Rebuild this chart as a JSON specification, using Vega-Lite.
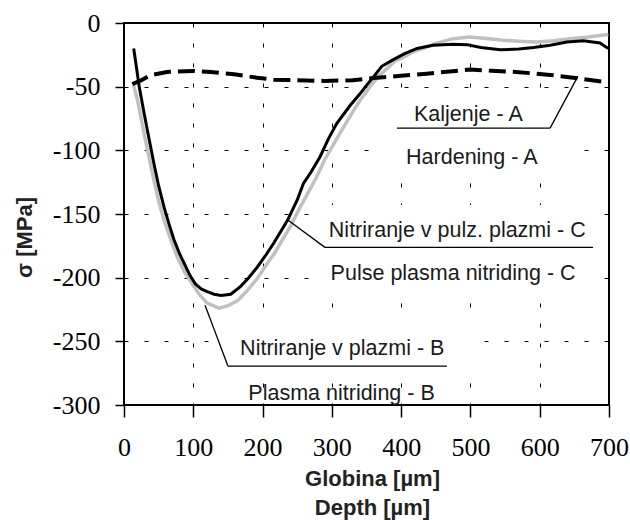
{
  "$schema": "https://vega.github.io/schema/vega-lite/v6.json",
  "width": 485,
  "height": 382,
  "autosize": {"type": "none"},
  "padding": {"left": 124, "top": 23, "right": 21, "bottom": 115},
  "background": "white",
  "config": {
    "view": {"stroke": "#000000", "strokeWidth": 2},
    "axis": {
      "domain": false,
      "grid": true,
      "gridColor": "#000000",
      "gridWidth": 1,
      "gridDash": [4, 16],
      "gridOpacity": 1,
      "tickColor": "#000000",
      "tickWidth": 1.5,
      "labelColor": "#000000",
      "labelFont": "Liberation Serif",
      "labelFontSize": 26,
      "labelFlush": false,
      "labelOverlap": false,
      "titleFont": "Liberation Sans",
      "titleFontWeight": "bold",
      "titleFontSize": 22,
      "titleColor": "#222222"
    }
  },
  "datasets": {
    "curves": [
      {"series": "C", "depth": 14, "sigma": -20},
      {"series": "C", "depth": 18, "sigma": -35},
      {"series": "C", "depth": 22, "sigma": -50},
      {"series": "C", "depth": 28, "sigma": -68},
      {"series": "C", "depth": 34, "sigma": -85},
      {"series": "C", "depth": 43, "sigma": -110},
      {"series": "C", "depth": 50, "sigma": -128},
      {"series": "C", "depth": 58, "sigma": -145},
      {"series": "C", "depth": 65, "sigma": -158},
      {"series": "C", "depth": 72, "sigma": -170},
      {"series": "C", "depth": 80, "sigma": -181},
      {"series": "C", "depth": 87, "sigma": -189},
      {"series": "C", "depth": 95, "sigma": -198},
      {"series": "C", "depth": 103, "sigma": -205},
      {"series": "C", "depth": 112, "sigma": -209},
      {"series": "C", "depth": 120, "sigma": -211},
      {"series": "C", "depth": 130, "sigma": -213},
      {"series": "C", "depth": 140, "sigma": -214},
      {"series": "C", "depth": 154, "sigma": -213},
      {"series": "C", "depth": 168, "sigma": -207},
      {"series": "C", "depth": 180, "sigma": -200},
      {"series": "C", "depth": 192, "sigma": -192},
      {"series": "C", "depth": 205, "sigma": -182},
      {"series": "C", "depth": 216, "sigma": -173},
      {"series": "C", "depth": 226, "sigma": -164},
      {"series": "C", "depth": 236, "sigma": -155},
      {"series": "C", "depth": 250, "sigma": -139},
      {"series": "C", "depth": 259, "sigma": -126},
      {"series": "C", "depth": 270, "sigma": -117},
      {"series": "C", "depth": 283, "sigma": -105},
      {"series": "C", "depth": 295, "sigma": -91},
      {"series": "C", "depth": 307, "sigma": -79},
      {"series": "C", "depth": 326, "sigma": -65},
      {"series": "C", "depth": 340, "sigma": -56},
      {"series": "C", "depth": 350, "sigma": -49},
      {"series": "C", "depth": 362, "sigma": -41},
      {"series": "C", "depth": 372, "sigma": -34},
      {"series": "C", "depth": 388, "sigma": -29},
      {"series": "C", "depth": 405, "sigma": -24},
      {"series": "C", "depth": 423, "sigma": -20},
      {"series": "C", "depth": 446, "sigma": -17.5},
      {"series": "C", "depth": 475, "sigma": -16.7},
      {"series": "C", "depth": 495, "sigma": -17},
      {"series": "C", "depth": 515, "sigma": -19.3},
      {"series": "C", "depth": 543, "sigma": -21},
      {"series": "C", "depth": 570, "sigma": -20.5},
      {"series": "C", "depth": 591, "sigma": -19.3},
      {"series": "C", "depth": 615, "sigma": -17.5},
      {"series": "C", "depth": 639, "sigma": -15},
      {"series": "C", "depth": 663, "sigma": -14},
      {"series": "C", "depth": 687, "sigma": -15.7},
      {"series": "C", "depth": 699, "sigma": -20},
      {"series": "B", "depth": 14, "sigma": -49},
      {"series": "B", "depth": 20, "sigma": -62},
      {"series": "B", "depth": 29, "sigma": -87},
      {"series": "B", "depth": 36, "sigma": -105},
      {"series": "B", "depth": 43, "sigma": -123},
      {"series": "B", "depth": 50, "sigma": -140},
      {"series": "B", "depth": 58, "sigma": -155},
      {"series": "B", "depth": 68, "sigma": -171},
      {"series": "B", "depth": 77, "sigma": -184},
      {"series": "B", "depth": 88, "sigma": -196},
      {"series": "B", "depth": 101, "sigma": -207},
      {"series": "B", "depth": 110, "sigma": -214},
      {"series": "B", "depth": 120, "sigma": -220},
      {"series": "B", "depth": 137, "sigma": -224},
      {"series": "B", "depth": 150, "sigma": -222},
      {"series": "B", "depth": 164, "sigma": -218},
      {"series": "B", "depth": 178, "sigma": -210},
      {"series": "B", "depth": 192, "sigma": -201},
      {"series": "B", "depth": 204, "sigma": -191},
      {"series": "B", "depth": 217, "sigma": -181},
      {"series": "B", "depth": 229, "sigma": -170},
      {"series": "B", "depth": 240, "sigma": -160},
      {"series": "B", "depth": 252, "sigma": -147},
      {"series": "B", "depth": 265, "sigma": -134},
      {"series": "B", "depth": 278, "sigma": -121},
      {"series": "B", "depth": 290, "sigma": -107},
      {"series": "B", "depth": 307, "sigma": -91},
      {"series": "B", "depth": 320, "sigma": -79},
      {"series": "B", "depth": 331, "sigma": -69},
      {"series": "B", "depth": 343, "sigma": -59},
      {"series": "B", "depth": 355, "sigma": -50},
      {"series": "B", "depth": 367, "sigma": -42},
      {"series": "B", "depth": 379, "sigma": -36},
      {"series": "B", "depth": 391, "sigma": -30},
      {"series": "B", "depth": 403, "sigma": -27},
      {"series": "B", "depth": 420, "sigma": -22},
      {"series": "B", "depth": 432, "sigma": -20},
      {"series": "B", "depth": 450, "sigma": -16},
      {"series": "B", "depth": 475, "sigma": -12.3},
      {"series": "B", "depth": 499, "sigma": -11},
      {"series": "B", "depth": 520, "sigma": -12},
      {"series": "B", "depth": 547, "sigma": -13.6},
      {"series": "B", "depth": 575, "sigma": -14.5},
      {"series": "B", "depth": 596, "sigma": -15},
      {"series": "B", "depth": 620, "sigma": -14},
      {"series": "B", "depth": 644, "sigma": -12.3},
      {"series": "B", "depth": 670, "sigma": -11},
      {"series": "B", "depth": 699, "sigma": -9},
      {"series": "A", "depth": 12, "sigma": -48},
      {"series": "A", "depth": 25, "sigma": -45},
      {"series": "A", "depth": 38, "sigma": -41},
      {"series": "A", "depth": 62, "sigma": -38.5},
      {"series": "A", "depth": 100, "sigma": -37.7},
      {"series": "A", "depth": 125, "sigma": -38.5},
      {"series": "A", "depth": 159, "sigma": -40.3},
      {"series": "A", "depth": 192, "sigma": -43},
      {"series": "A", "depth": 216, "sigma": -44.5},
      {"series": "A", "depth": 250, "sigma": -45},
      {"series": "A", "depth": 289, "sigma": -45.5},
      {"series": "A", "depth": 330, "sigma": -45},
      {"series": "A", "depth": 365, "sigma": -43},
      {"series": "A", "depth": 400, "sigma": -41.5},
      {"series": "A", "depth": 437, "sigma": -39.8},
      {"series": "A", "depth": 470, "sigma": -38},
      {"series": "A", "depth": 499, "sigma": -36.6},
      {"series": "A", "depth": 530, "sigma": -37.5},
      {"series": "A", "depth": 566, "sigma": -38.5},
      {"series": "A", "depth": 600, "sigma": -40},
      {"series": "A", "depth": 619, "sigma": -41},
      {"series": "A", "depth": 658, "sigma": -43.7},
      {"series": "A", "depth": 694, "sigma": -46.3},
      {"series": "A", "depth": 700, "sigma": -46.5}
    ],
    "boxes": [
      {"depth": 374, "sigma": -53, "depth2": 654, "sigma2": -116},
      {"depth": 268, "sigma": -143, "depth2": 675, "sigma2": -211},
      {"depth": 124, "sigma": -235, "depth2": 506, "sigma2": -274}
    ],
    "notes": [
      {"depth": 497, "sigma": -77, "text": "Kaljenje - A"},
      {"depth": 502, "sigma": -110.4, "text": "Hardening - A"},
      {"depth": 481, "sigma": -168.1, "text": "Nitriranje v pulz. plazmi - C"},
      {"depth": 475, "sigma": -202.1, "text": "Pulse plasma nitriding - C"},
      {"depth": 315, "sigma": -260.4, "text": "Nitriranje v plazmi - B"},
      {"depth": 314, "sigma": -296.3, "text": "Plasma nitriding - B"}
    ],
    "leaders": [
      {"depth": 394, "sigma": -82.6, "depth2": 615, "sigma2": -82.6},
      {"depth": 615, "sigma": -82.6, "depth2": 655, "sigma2": -41.9},
      {"depth": 290, "sigma": -176.2, "depth2": 677, "sigma2": -176.2},
      {"depth": 290, "sigma": -176.2, "depth2": 235, "sigma2": -154.2},
      {"depth": 150, "sigma": -269.4, "depth2": 466, "sigma2": -269.4},
      {"depth": 150, "sigma": -269.4, "depth2": 117, "sigma2": -221.7}
    ]
  },
  "encoding": {
    "x": {
      "field": "depth",
      "type": "quantitative",
      "scale": {"domain": [0, 700], "nice": false, "zero": false},
      "axis": {
        "title": ["Globina [µm]", "Depth [µm]"],
        "values": [0, 100, 200, 300, 400, 500, 600, 700],
        "labelFont": "Liberation Serif",
        "labelFontSize": 26,
        "tickSize": 12,
        "labelPadding": 17,
        "titleX": 248,
        "titleY": 80,
        "titleAlign": "center",
        "titleBaseline": "alphabetic",
        "titleLineHeight": 29
      }
    },
    "y": {
      "field": "sigma",
      "type": "quantitative",
      "scale": {"domain": [-300, 0], "nice": false, "zero": false},
      "axis": {
        "title": "σ [MPa]",
        "values": [-300, -250, -200, -150, -100, -50, 0],
        "labelExpr": "replace(datum.label, '\u2212', '-')",
        "labelFont": "Liberation Serif",
        "labelFontSize": 26,
        "tickSize": 9,
        "labelPadding": 15,
        "titleAngle": 270,
        "titleX": -93,
        "titleY": 214,
        "titleAlign": "center",
        "titleBaseline": "alphabetic"
      }
    }
  },
  "layer": [
    {
      "data": {"name": "boxes"},
      "mark": {"type": "rect", "fill": "#ffffff", "stroke": null},
      "encoding": {
        "x2": {"field": "depth2"},
        "y2": {"field": "sigma2"}
      }
    },
    {
      "data": {"name": "curves"},
      "transform": [{"filter": "datum.series === 'B'"}],
      "mark": {"type": "line", "color": "#c0c0c0", "strokeWidth": 3.5, "clip": true}
    },
    {
      "data": {"name": "curves"},
      "transform": [{"filter": "datum.series === 'A'"}],
      "mark": {"type": "line", "color": "#000000", "strokeWidth": 4, "strokeDash": [17, 7], "clip": true}
    },
    {
      "data": {"name": "curves"},
      "transform": [{"filter": "datum.series === 'C'"}],
      "mark": {"type": "line", "color": "#000000", "strokeWidth": 3, "clip": true}
    },
    {
      "data": {"name": "leaders"},
      "mark": {"type": "rule", "color": "#000000", "strokeWidth": 1.3},
      "encoding": {
        "x2": {"field": "depth2"},
        "y2": {"field": "sigma2"}
      }
    },
    {
      "data": {"name": "notes"},
      "mark": {"type": "text", "font": "Liberation Sans", "fontSize": 21.5, "color": "#1a1a1a", "align": "center", "baseline": "alphabetic"},
      "encoding": {
        "text": {"field": "text"}
      }
    }
  ]
}
